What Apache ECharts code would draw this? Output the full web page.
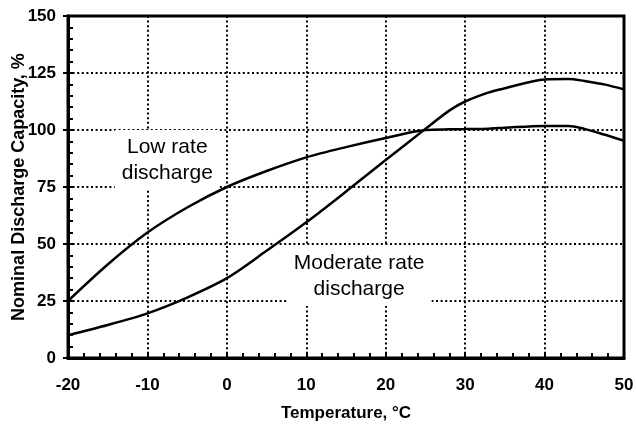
<!DOCTYPE html>
<html>
<head>
<meta charset="utf-8">
<script src="https://cdn.jsdelivr.net/npm/echarts@6/dist/echarts.min.js"></script>
<style>
  html, body { margin: 0; padding: 0; background: #fff; }
  #chart { width: 636px; height: 425px; }
</style>
</head>
<body>
<div id="chart"></div>
<script>
// temperature, degC
var temps = [-20, -15, -10, -5, 0, 5, 10, 15, 20, 25, 28, 30, 33, 35, 40, 43, 45, 47.5, 50]
// nominal capacity, %
var lowRate = [25, 41, 55, 66, 75, 82, 88, 92.5, 96.5, 100, 100.3, 100.4, 100.6, 101, 101.8, 101.8, 100.5, 98, 95.3]
var moderateRate = [10, 14.5, 19.6, 26.5, 35, 47, 59.5, 73, 86.8, 100.5, 108.5, 112.5, 116.5, 118.3, 122.2, 122.4, 121.5, 120, 117.8]

var xName = 'Temperature, °C'
var yName = 'Nominal Discharge Capacity, %'
var notes = [
  { text: 'Low rate\ndischarge', at: [-7.5, 86.8] },
  { text: 'Moderate rate\ndischarge', at: [16.65, 36] }
]

function pairs(xs, ys) {
  var out = []
  for (var i = 0; i < xs.length; i++) out.push([xs[i], ys[i]])
  return out
}

var font = 'Liberation Sans, Arial, sans-serif'
var dotted = { color: '#000', width: 2, type: [2, 2.6] }

var myChart = echarts.init(document.getElementById('chart'))

var option = {
  animation: false,
  backgroundColor: '#fff',
  grid: {
    left: 68, right: 12, top: 16, bottom: 67,
    outerBoundsMode: 'none', containLabel: false,
    show: true, borderColor: '#000', borderWidth: 3
  },
  xAxis: {
    type: 'value', min: -20, max: 50, interval: 10,
    name: xName, nameLocation: 'middle', nameGap: 47,
    nameTextStyle: { fontFamily: font, fontWeight: 'bold', fontSize: 17, color: '#000' },
    axisLine: { onZero: false, lineStyle: { color: '#000', width: 3 } },
    axisTick: { inside: true, length: 6, lineStyle: { color: '#000', width: 2 } },
    minorTick: { show: true, splitNumber: 5, length: 5, lineStyle: { color: '#000', width: 2 } },
    axisLabel: { fontFamily: font, fontWeight: 'bold', fontSize: 17, color: '#000', margin: 19 },
    splitLine: { show: true, lineStyle: dotted }
  },
  yAxis: [{
    type: 'value', min: 0, max: 150, interval: 25,
    name: yName, nameLocation: 'middle', nameGap: 40, nameMoveOverlap: false,
    nameTextStyle: { fontFamily: font, fontWeight: 'bold', fontSize: 18, color: '#000' },
    axisLine: { onZero: false, lineStyle: { color: '#000', width: 3 } },
    axisTick: { inside: true, length: 6, lineStyle: { color: '#000', width: 2 } },
    minorTick: { show: true, splitNumber: 5, length: 5, lineStyle: { color: '#000', width: 2 } },
    axisLabel: { fontFamily: font, fontWeight: 'bold', fontSize: 17, color: '#000', margin: 12 },
    splitLine: { show: true, lineStyle: dotted }
  }, {
    // outward half of the major ticks
    type: 'value', min: 0, max: 150, interval: 25, position: 'left',
    axisLine: { show: false, onZero: false },
    axisTick: { show: true, length: 5, lineStyle: { color: '#000', width: 2 } },
    axisLabel: { show: false },
    splitLine: { show: false }
  }],
  series: [{
    name: 'Low rate discharge',
    type: 'line', smooth: 0.3, showSymbol: false, z: 5,
    lineStyle: { color: '#000', width: 2.5 },
    data: pairs(temps, lowRate)
  }, {
    name: 'Moderate rate discharge',
    type: 'line', smooth: 0.3, showSymbol: false, z: 5,
    lineStyle: { color: '#000', width: 2.5 },
    data: pairs(temps, moderateRate)
  }]
}

myChart.setOption(option, true)

/* 注释文字（白底遮住网格线） */
var graphics = notes.map(function (n) {
  var p = myChart.convertToPixel({ gridIndex: 0 }, n.at)
  return {
    type: 'text', x: p[0], y: p[1], z: 1,
    style: {
      text: n.text, font: '21px ' + font, fill: '#000',
      align: 'center', verticalAlign: 'middle', lineHeight: 26,
      backgroundColor: '#fff', padding: [4, 7]
    }
  }
})
myChart.setOption({ graphic: graphics })
</script>
</body>
</html>
